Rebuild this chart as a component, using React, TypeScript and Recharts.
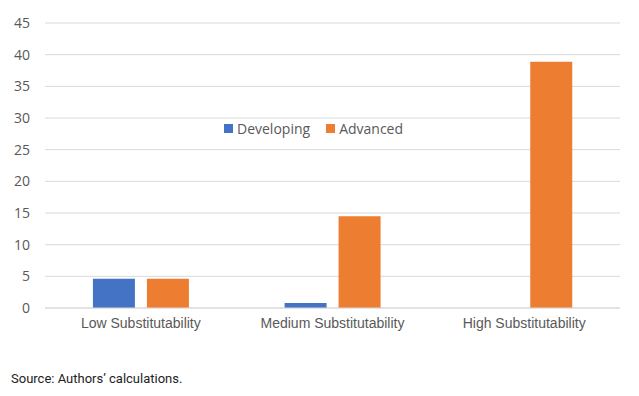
import { BarChart, Bar, XAxis, YAxis, CartesianGrid, Legend } from "recharts";

const categories = ["Low Substitutability", "Medium Substitutability", "High Substitutability"];
const developing = [4.6, 0.8, 0];
const advanced = [4.6, 14.5, 38.9];
const yTicks = [0, 5, 10, 15, 20, 25, 30, 35, 40, 45];
const seriesOrder = ["Developing", "Advanced"];

const data = categories.map((name, i) => ({
  name,
  Developing: developing[i],
  Advanced: advanced[i],
}));

const LegendContent = ({ payload }: any) => {
  const items = [...(payload || [])].sort(
    (a: any, b: any) => seriesOrder.indexOf(a.value) - seriesOrder.indexOf(b.value)
  );
  return (
    <div style={{ display: "flex", gap: 16, fontFamily: "Open Sans", fontSize: 14, color: "#595959" }}>
      {items.map((p: any) => (
        <span key={p.value} style={{ display: "flex", alignItems: "center" }}>
          <span style={{ width: 9, height: 9, background: p.color, display: "inline-block", marginRight: 4 }} />
          {p.value}
        </span>
      ))}
    </div>
  );
};

export default function App() {
  return (
    <div style={{ position: "absolute", left: 0, top: 0, width: 639, height: 396, background: "#fff" }}>
      <BarChart
        width={639}
        height={340}
        data={data}
        margin={{ top: 23, right: 19, bottom: 0, left: 0 }}
        barCategoryGap="25%"
        barGap={12}
      >
        <CartesianGrid vertical={false} stroke="#d9d9d9" />
        <XAxis
          dataKey="name"
          axisLine={{ stroke: "#d9d9d9" }}
          tickLine={false}
          tickSize={0}
          tickMargin={10}
          height={32}
          tick={{ fill: "#595959", fontSize: 14, fontFamily: "Liberation Sans" }}
        />
        <YAxis
          domain={[0, 45]}
          ticks={yTicks}
          width={45}
          axisLine={false}
          tickLine={false}
          tickSize={0}
          tickMargin={15}
          tick={{ fill: "#595959", fontSize: 14, fontFamily: "Open Sans" }}
        />
        <Legend
          content={<LegendContent />}
          verticalAlign="middle"
          align="center"
          wrapperStyle={{ top: 119, left: 224, width: "auto" }}
        />
        <Bar dataKey="Developing" fill="#4472C4" isAnimationActive={false} />
        <Bar dataKey="Advanced" fill="#ED7D31" isAnimationActive={false} />
      </BarChart>
      <div
        style={{
          position: "absolute",
          left: 11,
          top: 371,
          fontFamily: "Roboto",
          fontSize: 13,
          color: "#222",
        }}
      >
        Source: Authors’ calculations.
      </div>
    </div>
  );
}
